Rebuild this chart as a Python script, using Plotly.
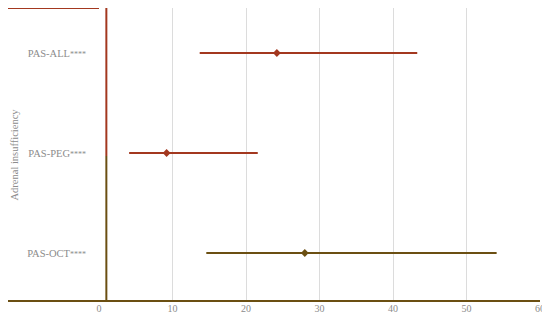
import plotly.graph_objs as go

groups = ["PAS-OCT****", "PAS-PEG****", "PAS-ALL****"]
estimate = [28.0, 9.2, 24.2]
ci_low = [14.6, 4.1, 13.7]
ci_high = [54.1, 21.6, 43.3]
colors = ["#6b4f12", "#a3381f", "#a3381f"]
ref_value = 1

RED = "#a3381f"
OLIVE = "#6b4f12"
GRAY = "#8c8c8c"
FONT = "Liberation Serif"

Y_RANGE = [-0.48, 2.45]
PLOT_W = 550 - 91 - 18

# small asterisks, like the source figure
ticktext = [g.replace("****", "<span style='font-size:8px'>****</span>") for g in groups]

fig = go.Figure()

for i, g in enumerate(groups):
    fig.add_trace(go.Scatter(
        x=[estimate[i]],
        y=[i],
        mode="markers",
        marker=dict(symbol="diamond", size=6, color=colors[i]),
        error_x=dict(
            type="data",
            symmetric=False,
            array=[ci_high[i] - estimate[i]],
            arrayminus=[estimate[i] - ci_low[i]],
            color=colors[i],
            thickness=2,
            width=0,
        ),
        name=g,
        showlegend=False,
    ))

# reference line at 1, red in the upper part, olive in the lower part
fig.add_trace(go.Scatter(x=[ref_value, ref_value], y=[0.97, Y_RANGE[1]], mode="lines",
                         line=dict(color=RED, width=2), showlegend=False, hoverinfo="skip"))
fig.add_trace(go.Scatter(x=[ref_value, ref_value], y=[Y_RANGE[0], 0.97], mode="lines",
                         line=dict(color=OLIVE, width=2), showlegend=False, hoverinfo="skip"))

# axis lines that run past the plot on the left
fig.add_shape(type="line", xref="paper", yref="paper", x0=-91 / PLOT_W, x1=1, y0=0, y1=0,
              line=dict(color=OLIVE, width=2))
fig.add_shape(type="line", xref="paper", yref="paper", x0=-91 / PLOT_W, x1=0, y0=1, y1=1,
              line=dict(color=RED, width=2))

fig.add_annotation(text="Adrenal insufficiency", xref="paper", yref="paper",
                   x=-85 / PLOT_W, y=0.5, xanchor="center", yanchor="middle",
                   textangle=-90, showarrow=False,
                   font=dict(family=FONT, size=10.5, color=GRAY))

fig.update_layout(
    width=550, height=325,
    margin=dict(l=91, r=18, t=0, b=32),
    paper_bgcolor="white", plot_bgcolor="white",
    font=dict(family=FONT, size=10, color=GRAY),
    xaxis=dict(
        range=[0, 60], tickvals=[0, 10, 20, 30, 40, 50, 60],
        showgrid=True, gridcolor="#dcdcdc", gridwidth=1,
        zeroline=False, showline=False, ticks="",
        tickfont=dict(family=FONT, size=10, color=GRAY),
    ),
    yaxis=dict(
        range=Y_RANGE, tickvals=[0, 1, 2], ticktext=ticktext,
        showgrid=False, zeroline=False, showline=False, ticks="",
        ticklabelstandoff=12,
        tickfont=dict(family=FONT, size=10.5, color=GRAY),
    ),
)

fig.write_html("out.html")
